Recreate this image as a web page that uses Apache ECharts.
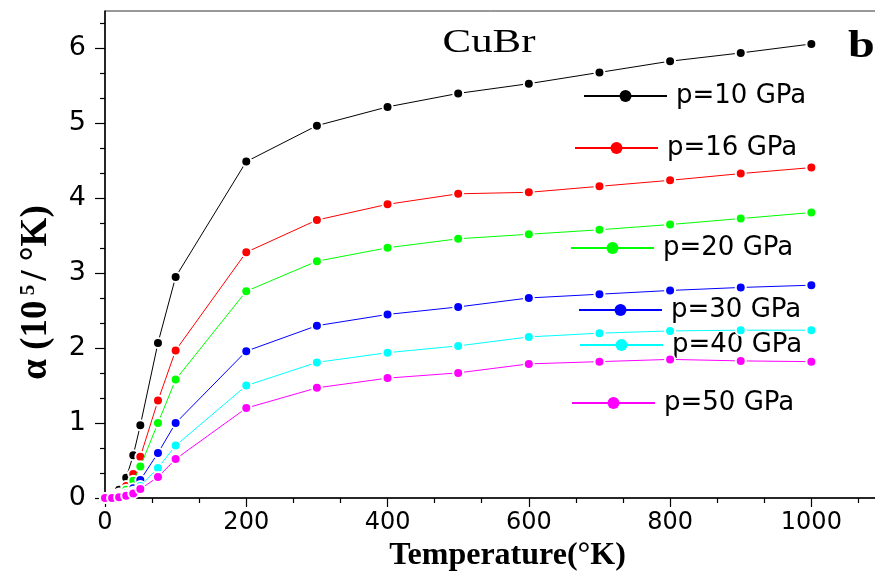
<!DOCTYPE html>
<html>
<head>
<meta charset="utf-8">
<script src="https://cdn.jsdelivr.net/npm/echarts@6/dist/echarts.min.js"></script>
<style>
  html, body { margin: 0; padding: 0; background: #ffffff; }
  #chart { width: 875px; height: 571px; }
</style>
</head>
<body>
<div id="chart"></div>
<script>
// Temperature grid (°K) shared by all pressure curves
const temperatures = [0, 10, 20, 30, 40, 50, 75, 100, 200, 300, 400, 500, 600, 700, 800, 900, 1000];

// Thermal expansion coefficient α (10^-5 /°K) for each pressure
const alphaP10 = [0, 0.02, 0.11, 0.27, 0.57, 0.97, 2.07, 2.95, 4.49, 4.97, 5.22, 5.40, 5.53, 5.68, 5.83, 5.94, 6.06];
const alphaP16 = [0, 0.01, 0.06, 0.16, 0.32, 0.55, 1.30, 1.97, 3.28, 3.71, 3.92, 4.06, 4.08, 4.16, 4.24, 4.33, 4.41];
const alphaP20 = [0, 0.01, 0.04, 0.11, 0.23, 0.42, 1.00, 1.58, 2.76, 3.16, 3.34, 3.46, 3.52, 3.58, 3.65, 3.73, 3.81];
const alphaP30 = [0, 0.005, 0.025, 0.065, 0.13, 0.24, 0.60, 1.00, 1.96, 2.30, 2.45, 2.55, 2.67, 2.72, 2.77, 2.81, 2.84];
const alphaP40 = [0, 0, 0.015, 0.04, 0.085, 0.16, 0.40, 0.70, 1.50, 1.81, 1.94, 2.03, 2.15, 2.20, 2.23, 2.24, 2.24];
const alphaP50 = [0, 0, 0.01, 0.03, 0.06, 0.12, 0.28, 0.52, 1.20, 1.47, 1.60, 1.67, 1.79, 1.82, 1.85, 1.83, 1.82];

const seriesNames = ['p=10 GPa', 'p=16 GPa', 'p=20 GPa', 'p=30 GPa', 'p=40 GPa', 'p=50 GPa'];
const seriesValues = [alphaP10, alphaP16, alphaP20, alphaP30, alphaP40, alphaP50];
const seriesColors = ['#000000', '#ff0000', '#00ff00', '#0000ff', '#00ffff', '#ff00ff'];

// Axis tick labels
const xTickLabels = [0, 200, 400, 600, 800, 1000];
const yTickLabels = [0, 1, 2, 3, 4, 5, 6];

// Legend placement: each entry sits next to its curve
const legendSpots = [
  { left: 583, mid: 96 },
  { left: 574, mid: 148 },
  { left: 570, mid: 248 },
  { left: 578, mid: 310 },
  { left: 579, mid: 345 },
  { left: 571, mid: 403 }
];

const X_MAX = 1100;
const Y_MAX = 6.5;

// Minor tick positions: two between neighbouring major ticks
const xMinor = [];
for (let i = 0; i * 200 < X_MAX; i++) {
  xMinor.push(i * 200 + 200 / 3, i * 200 + 400 / 3);
}
const yMinor = [];
for (let i = 0; i < Y_MAX; i++) {
  yMinor.push(i + 1 / 3, i + 2 / 3);
}

const sansFont = 'DejaVu Sans';
const serifFont = 'Liberation Serif';

const series = seriesNames.map((name, k) => ({
  name: name,
  type: 'line',
  xAxisIndex: 0,
  yAxisIndex: 0,
  data: temperatures.map((t, i) => [t, seriesValues[k][i]]),
  symbol: 'circle',
  symbolSize: 10,
  showSymbol: true,
  lineStyle: { color: seriesColors[k], width: 1 },
  itemStyle: { color: seriesColors[k], borderColor: '#ffffff', borderWidth: 2 },
  emphasis: { disabled: true },
  animation: false,
  z: 2 + k
}));

const legends = seriesNames.map((name, k) => ({
  data: [name],
  left: legendSpots[k].left,
  top: legendSpots[k].mid - 15,
  padding: 0,
  itemWidth: 83,
  itemHeight: 15,
  itemStyle: { borderWidth: 0 },
  selectedMode: false,
  textStyle: {
    fontFamily: sansFont,
    fontSize: 26,
    color: '#000000',
    lineHeight: 30,
    padding: [0, 0, 0, 4]
  }
}));

const chart = echarts.init(document.getElementById('chart'), null, { renderer: 'canvas' });

chart.setOption({
  backgroundColor: '#ffffff',
  animation: false,
  grid: {
    left: 105,
    top: 11,
    width: 777,
    height: 487,
    outerBoundsMode: 'none',
    containLabel: false,
    show: true,
    borderColor: '#333333',
    borderWidth: 1,
    backgroundColor: 'transparent'
  },
  legend: legends,
  xAxis: [
    {
      type: 'value',
      min: 0,
      max: X_MAX,
      interval: 200,
      name: 'Temperature(°K)',
      nameLocation: 'middle',
      nameGap: 36,
      nameTextStyle: {
        fontFamily: serifFont,
        fontWeight: 'bold',
        fontSize: 32,
        color: '#000000',
        padding: [0, 0, 0, 28]
      },
      axisLine: { show: true, onZero: false, lineStyle: { color: '#000000', width: 1.5 } },
      axisTick: { show: true, inside: false, length: 9, customValues: xTickLabels, lineStyle: { color: '#000000', width: 1.2 } },
      axisLabel: {
        customValues: xTickLabels,
        formatter: (v) => String(v),
        margin: 13,
        fontFamily: sansFont,
        fontSize: 24,
        color: '#000000'
      },
      splitLine: { show: false }
    },
    {
      // minor ticks
      type: 'value',
      position: 'bottom',
      min: 0,
      max: X_MAX,
      gridIndex: 0,
      axisLine: { show: false },
      axisTick: { show: true, inside: false, length: 5, customValues: xMinor, lineStyle: { color: '#000000', width: 1.2 } },
      axisLabel: { show: false },
      splitLine: { show: false }
    }
  ],
  yAxis: [
    {
      type: 'value',
      min: 0,
      max: Y_MAX,
      interval: 1,
      name: '{a|α (10}{s| 5}{a|/ °K)}',
      nameLocation: 'middle',
      nameRotate: 90,
      nameGap: 50,
      nameTextStyle: {
        color: '#000000',
        padding: [0, 76, 0, 0],
        rich: {
          a: { fontFamily: serifFont, fontWeight: 'bold', fontSize: 37, color: '#000000' },
          s: { fontFamily: serifFont, fontWeight: 'bold', fontSize: 21, color: '#000000', verticalAlign: 'top', padding: [0, 4, 14, 0] }
        }
      },
      axisLine: { show: true, onZero: false, lineStyle: { color: '#000000', width: 1.5 } },
      axisTick: { show: true, inside: false, length: 10, customValues: yTickLabels, lineStyle: { color: '#000000', width: 1.2 } },
      axisLabel: {
        customValues: yTickLabels,
        margin: 19,
        fontFamily: sansFont,
        fontSize: 27,
        color: '#000000'
      },
      splitLine: { show: false }
    },
    {
      // minor ticks
      type: 'value',
      position: 'left',
      min: 0,
      max: Y_MAX,
      gridIndex: 0,
      axisLine: { show: false },
      axisTick: { show: true, inside: false, length: 5, customValues: yMinor, lineStyle: { color: '#000000', width: 1.2 } },
      axisLabel: { show: false },
      splitLine: { show: false }
    }
  ],
  graphic: [
    {
      type: 'text',
      x: 489,
      y: 43,
      scaleX: 1.3,
      style: {
        text: 'CuBr',
        fontFamily: serifFont,
        fontSize: 33,
        fill: '#000000',
        align: 'center',
        verticalAlign: 'middle'
      }
    },
    {
      type: 'text',
      x: 848,
      y: 47,
      scaleX: 1.3,
      style: {
        text: 'b',
        fontFamily: serifFont,
        fontWeight: 'bold',
        fontSize: 37,
        fill: '#000000',
        align: 'left',
        verticalAlign: 'middle'
      }
    }
  ],
  series: series
});
</script>
</body>
</html>
